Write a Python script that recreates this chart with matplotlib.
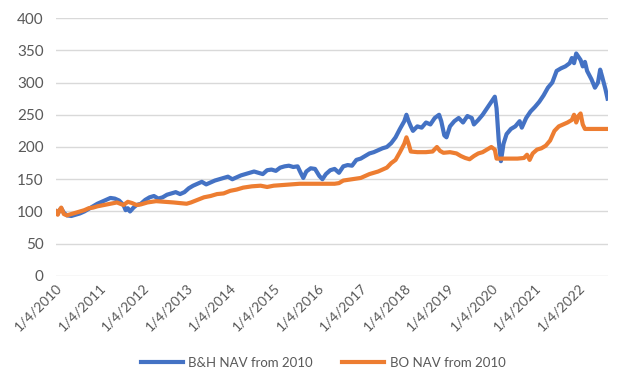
import matplotlib
matplotlib.use('Agg')
import matplotlib.pyplot as plt

# 数据 (年份小数, 净值)
bh_x = [2010.00, 2010.04, 2010.08, 2010.12, 2010.18, 2010.25, 2010.35, 2010.45, 2010.55, 2010.65,
        2010.75, 2010.85, 2010.95, 2011.05, 2011.15, 2011.25, 2011.35, 2011.45, 2011.55, 2011.60,
        2011.65, 2011.70, 2011.78, 2011.85, 2011.95, 2012.05, 2012.15, 2012.25, 2012.35, 2012.45,
        2012.55, 2012.65, 2012.75, 2012.85, 2012.95, 2013.05, 2013.15, 2013.25, 2013.35, 2013.45,
        2013.55, 2013.65, 2013.75, 2013.85, 2013.95, 2014.05, 2014.15, 2014.25, 2014.35, 2014.45,
        2014.55, 2014.65, 2014.75, 2014.85, 2014.95, 2015.05, 2015.15, 2015.25, 2015.35, 2015.45,
        2015.55, 2015.62, 2015.68, 2015.75, 2015.85, 2015.95, 2016.05, 2016.12, 2016.20, 2016.30,
        2016.40, 2016.50, 2016.60, 2016.70, 2016.80, 2016.90, 2017.00, 2017.10, 2017.20, 2017.30,
        2017.40, 2017.50, 2017.60, 2017.70, 2017.80, 2017.90, 2018.00, 2018.05, 2018.10, 2018.15,
        2018.20, 2018.30, 2018.40, 2018.50, 2018.60, 2018.70, 2018.80, 2018.85, 2018.92, 2018.97,
        2019.05, 2019.15, 2019.25, 2019.35, 2019.45, 2019.55, 2019.60, 2019.70, 2019.80, 2019.90,
        2020.00, 2020.08, 2020.12, 2020.17, 2020.22, 2020.28, 2020.35, 2020.45, 2020.55, 2020.65,
        2020.70, 2020.80, 2020.90, 2021.00, 2021.10, 2021.20, 2021.30, 2021.40, 2021.50, 2021.60,
        2021.70, 2021.80, 2021.85, 2021.90, 2021.95, 2022.00, 2022.05, 2022.10, 2022.15, 2022.20,
        2022.30, 2022.38, 2022.45, 2022.50, 2022.55, 2022.62, 2022.67]
bh_y = [100, 96, 102, 105, 98, 94, 93, 95, 97, 100,
        104, 108, 112, 115, 118, 121, 120, 117, 110, 102,
        105, 100, 106, 110, 112, 118, 122, 124, 120, 122,
        126, 128, 130, 127, 130, 136, 140, 143, 146, 142,
        145, 148, 150, 152, 154, 150, 153, 156, 158, 160,
        162, 160, 158, 164, 165, 163, 168, 170, 171, 169,
        170, 160, 152, 162, 167, 166, 155, 150, 158, 164,
        166, 160, 170, 172, 171, 180, 182, 186, 190, 192,
        195, 198, 200, 206, 215, 228, 240, 250, 240, 232,
        225, 232, 230, 238, 235, 245, 250, 240, 218, 215,
        232, 240, 245, 238, 248, 245, 235, 242, 250, 260,
        270, 278, 260, 210, 178, 205, 220, 228, 232, 240,
        230, 245, 255, 262, 270, 280, 292, 300, 318, 322,
        325, 330, 338, 330, 345, 340, 335, 325, 332, 318,
        305, 292, 300, 320, 308, 290, 275]

bo_x = [2010.00, 2010.04, 2010.08, 2010.12, 2010.18, 2010.25, 2010.35, 2010.45, 2010.55, 2010.65,
        2010.75, 2010.85, 2010.95, 2011.10, 2011.25, 2011.40, 2011.55, 2011.65, 2011.75, 2011.85,
        2011.95, 2012.10, 2012.30, 2012.50, 2012.70, 2012.85, 2013.00, 2013.10, 2013.25, 2013.40,
        2013.55, 2013.70, 2013.85, 2014.00, 2014.15, 2014.30, 2014.50, 2014.70, 2014.85, 2015.00,
        2015.20, 2015.40, 2015.60, 2015.80, 2016.00, 2016.20, 2016.40, 2016.50, 2016.60, 2016.80,
        2017.00, 2017.20, 2017.40, 2017.50, 2017.60, 2017.70, 2017.80, 2017.90, 2018.00, 2018.05,
        2018.10, 2018.15, 2018.30, 2018.50, 2018.65, 2018.75, 2018.82, 2018.90, 2019.05, 2019.20,
        2019.30, 2019.40, 2019.50, 2019.60, 2019.70, 2019.80, 2019.90, 2020.00, 2020.08, 2020.12,
        2020.40, 2020.60, 2020.75, 2020.82, 2020.88, 2020.95, 2021.05, 2021.15, 2021.25, 2021.35,
        2021.45, 2021.55, 2021.65, 2021.75, 2021.85, 2021.90, 2021.95, 2022.00, 2022.05, 2022.10,
        2022.15, 2022.40, 2022.67]
bo_y = [100, 95, 102, 106, 96, 94, 96, 98, 100, 102,
        105, 106, 108, 110, 112, 114, 110, 115, 113, 110,
        111, 114, 116, 115, 114, 113, 112, 114, 118, 122,
        124, 127, 128, 132, 134, 137, 139, 140, 138, 140,
        141, 142, 143, 143, 143, 143, 143, 144, 148, 150,
        152, 158, 162, 165, 168, 175, 180, 192, 205, 215,
        205, 193, 192, 192, 193, 200, 194, 191, 192, 190,
        186, 183, 181, 186, 190, 192, 196, 200, 196, 182,
        182, 182, 183, 188, 180, 190, 196, 198, 202, 210,
        225, 232, 235, 238, 242, 250, 238, 248, 252, 235,
        228, 228, 228]

years = list(range(2010, 2023))
tick_labels = [f'1/4/{y}' for y in years]

plt.rcParams['font.family'] = ['Lato', 'DejaVu Sans']

fig = plt.figure(figsize=(6.4, 3.92), dpi=100)
ax = fig.add_axes([0.0875, 0.296, 0.8625, 0.658])

ax.plot(bh_x, bh_y, color='#4472C4', linewidth=3, label='B&H NAV from 2010')
ax.plot(bo_x, bo_y, color='#ED7D31', linewidth=3, label='BO NAV from 2010')

ax.set_xlim(2010.0, 2022.68)
ax.set_ylim(0, 400)
ax.set_yticks(range(0, 401, 50))
ax.set_xticks(years)
ax.set_xticklabels(tick_labels, rotation=45, ha='right', rotation_mode='anchor')
ax.tick_params(axis='both', length=0, colors='#595959', labelsize=10)
ax.tick_params(axis='y', labelsize=11, pad=9)
ax.tick_params(axis='x', pad=4)
ax.grid(axis='y', color='#d9d9d9', linewidth=1)
ax.set_axisbelow(True)
for s in ax.spines.values():
    s.set_visible(False)

fig.legend(loc='center', bbox_to_anchor=(0.505, 0.075), ncol=2, frameon=False,
           fontsize=9.5, labelcolor='#595959', handlelength=3.2, handletextpad=0.4,
           columnspacing=2.2)

fig.savefig('out.png', dpi=100)
